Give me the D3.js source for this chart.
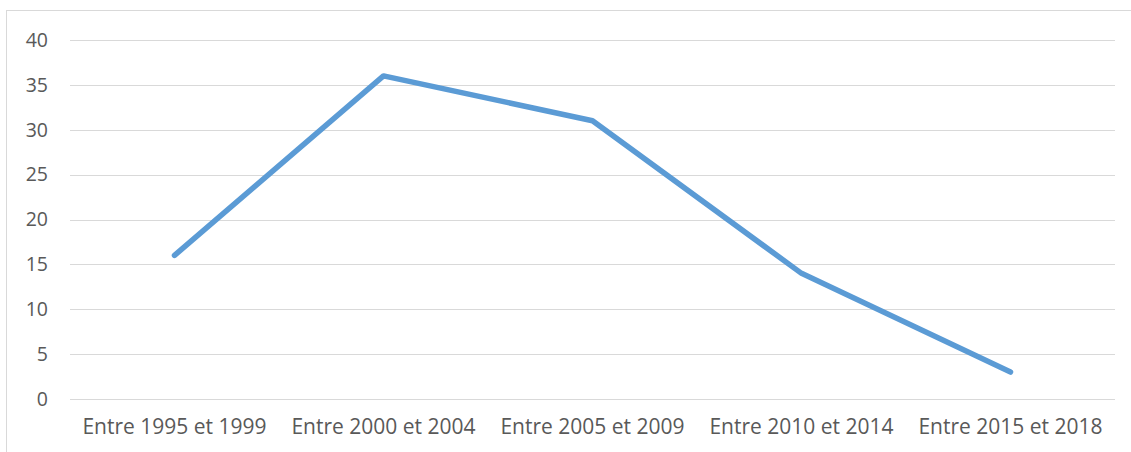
<!DOCTYPE html>
<html>
<head>
<meta charset="utf-8">
<script src="https://cdn.jsdelivr.net/npm/d3@7"></script>
<style>
  html, body { margin: 0; padding: 0; background: #ffffff; }
  svg { display: block; }
</style>
</head>
<body>
<svg id="chart" width="1131" height="452"></svg>
<script>
// Periods along the horizontal axis
const periods = [
  "Entre 1995 et 1999",
  "Entre 2000 et 2004",
  "Entre 2005 et 2009",
  "Entre 2010 et 2014",
  "Entre 2015 et 2018"
];
// Count per period
const counts = [16, 36, 31, 14, 3];
// Vertical axis ticks
const yTicks = [0, 5, 10, 15, 20, 25, 30, 35, 40];

const W = 1131, H = 452;
const margin = { left: 70, right: 16, top: 40, bottom: 53 };
const svg = d3.select("#chart");

// Chart frame
svg.append("rect")
  .attr("x", 6.5).attr("y", 10.5)
  .attr("width", W + 10).attr("height", H + 10)
  .attr("fill", "none").attr("stroke", "#d9d9d9").attr("stroke-width", 1);

const x = d3.scaleBand()
  .domain(periods)
  .range([margin.left, W - margin.right]);

const y = d3.scaleLinear()
  .domain([0, 40])
  .range([H - margin.bottom, margin.top]);

// Horizontal gridlines
svg.append("g")
  .selectAll("line")
  .data(yTicks)
  .join("line")
  .attr("x1", margin.left).attr("x2", W - margin.right)
  .attr("y1", d => Math.round(y(d)) + 0.5)
  .attr("y2", d => Math.round(y(d)) + 0.5)
  .attr("stroke", "#d9d9d9").attr("stroke-width", 1.2);

const font = "'Open Sans', sans-serif";

// Y axis labels
const yAxis = d3.axisLeft(y).tickValues(yTicks).tickSize(0).tickPadding(22);
svg.append("g")
  .attr("transform", `translate(${margin.left},0)`)
  .call(yAxis)
  .call(g => g.select(".domain").remove())
  .call(g => g.selectAll("text")
    .attr("fill", "#595959")
    .style("font-family", font)
    .style("font-size", "19.5px"));

// X axis labels
const xAxis = d3.axisBottom(x).tickSize(0).tickPadding(20);
svg.append("g")
  .attr("transform", `translate(0,${H - margin.bottom})`)
  .call(xAxis)
  .call(g => g.select(".domain").remove())
  .call(g => g.selectAll("text")
    .attr("fill", "#595959")
    .style("font-family", font)
    .style("font-size", "21px"));

// Series line
const line = d3.line()
  .x((d, i) => x(periods[i]) + x.bandwidth() / 2)
  .y(d => y(d));

svg.append("path")
  .datum(counts)
  .attr("d", line)
  .attr("fill", "none")
  .attr("stroke", "#5b9bd5")
  .attr("stroke-width", 5.5)
  .attr("stroke-linecap", "round")
  .attr("stroke-linejoin", "round");
</script>
</body>
</html>
